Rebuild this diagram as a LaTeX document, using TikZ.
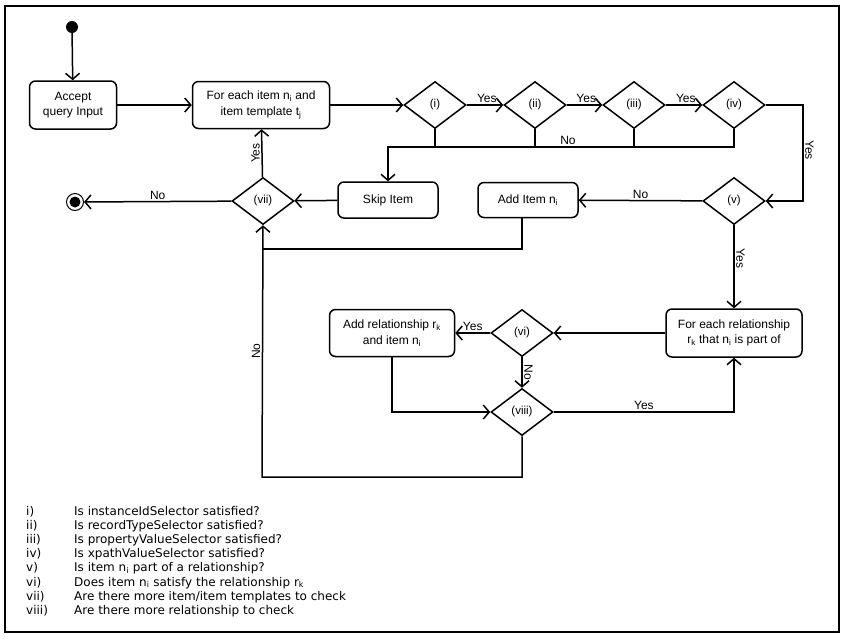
\documentclass[tikz,border=0pt]{standalone}
\usepackage{fontspec}
\setmainfont{Liberation Sans}
\newfontfamily\legendfont{DejaVu Sans}
\usepackage{tikz}
\usetikzlibrary{arrows.meta,shapes.geometric}

\begin{document}
\begin{tikzpicture}[x=1pt,y=-1pt]
    \tikzset{action/.style = {shape=rectangle, draw, rounded corners=6pt, line width=1.5pt, align=center, inner sep=0pt, font=\fontsize{12}{15.5}\selectfont}}
    \tikzset{decision/.style = {shape=diamond, draw, line width=1.5pt, minimum width=62pt, minimum height=47pt, inner sep=0pt, font=\fontsize{11.5}{13}\selectfont}}
    \tikzset{edge/.style = {-{Straight Barb[length=6pt,width=14pt]}, line width=1.5pt}}
    \tikzset{flow/.style = {line width=1.5pt}}
    \tikzset{lbl/.style = {inner sep=1.5pt, font=\fontsize{12}{13}\selectfont}}
    \tikzset{legend/.style = {anchor=base west, inner sep=0pt, font=\legendfont\fontsize{12}{13}\selectfont}}

    \useasboundingbox (0,0) rectangle (845,638);
    \draw[line width=1.5pt] (5,6) rectangle (839,632);

    \node[circle, fill, minimum size=12pt, inner sep=0pt] (start) at (72,27) {};
    \node[circle, draw, line width=1pt, minimum size=17pt, inner sep=0pt] (stop) at (75,202) {};
    \node[circle, fill, minimum size=11pt, inner sep=0pt] (stopdot) at (stop) {};

    \node[action, minimum width=87pt, minimum height=48pt] (accept) at (73,105) {Accept\\query Input};
    \node[action, minimum width=137pt, minimum height=47pt] (itemloop) at (261,105) {For each item n\textsubscript{i} and\\item template t\textsubscript{j}};
    \node[decision] (d1) at (435,105) {(i)};
    \node[decision] (d2) at (535,105) {(ii)};
    \node[decision] (d3) at (634,105) {(iii)};
    \node[decision] (d4) at (734,105) {(iv)};
    \node[decision] (d5) at (734,201) {(v)};
    \node[action, minimum width=100pt, minimum height=36pt] (skip) at (388,200) {Skip Item};
    \node[action, minimum width=100pt, minimum height=35pt] (additem) at (528,200) {Add Item n\textsubscript{i}};
    \node[decision] (d7) at (263,201) {(vii)};
    \node[action, minimum width=136pt, minimum height=48pt] (relloop) at (734,333) {For each relationship\\r\textsubscript{k} that n\textsubscript{i} is part of};
    \node[decision] (d6) at (522,333) {(vi)};
    \node[action, minimum width=125pt, minimum height=47pt] (addrel) at (392,333) {Add relationship r\textsubscript{k}\\and item n\textsubscript{i}};
    \node[decision] (d8) at (522,412) {(viii)};

    \coordinate (nojoin) at (388,147);
    \coordinate (rbend) at (803,150);
    \coordinate (joinA) at (262,249);
    \coordinate (loopcorner) at (262,477);

    \draw[edge] (start) -- (accept);
    \draw[edge] (accept) -- (itemloop);
    \draw[edge] (itemloop) -- (d1);
    \draw[edge] (d1) -- node[lbl, above, pos=0.55] (y1) {Yes} (d2);
    \draw[edge] (d2) -- node[lbl, above, pos=0.55] (y2) {Yes} (d3);
    \draw[edge] (d3) -- node[lbl, above, pos=0.55] (y3) {Yes} (d4);
    \draw[edge] (d4.east) -| (rbend) node[lbl, rotate=-90, anchor=south] (y4) {Yes} |- (d5.east);
    \draw[flow] (d1.south) -- (d1.south |- nojoin);
    \draw[flow] (d2.south) -- (d2.south |- nojoin);
    \draw[flow] (d3.south) -- (d3.south |- nojoin);
    \draw[edge] (d4.south) -- (d4.south |- nojoin) -- node[lbl, above, pos=0.48] (n1) {No} (nojoin) -- (skip.north);
    \draw[edge] (d5) -- node[lbl, above] (n5) {No} (additem);
    \draw[edge] (d5) -- node[lbl, rotate=-90, anchor=south, pos=0.4] (y5) {Yes} (relloop);
    \draw[edge] (skip) -- (d7);
    \draw[edge] (d7) -- node[lbl, above] (n7) {No} (stop);
    \draw[edge] (d7) -- node[lbl, rotate=90, anchor=south] (y7) {Yes} (itemloop);
    \draw[flow] (additem.south -| d6) |- (joinA);
    \draw[edge] (d8.south) |- (loopcorner) -- node[lbl, rotate=90, anchor=south, pos=0.5] (n8) {No} (d7.south);
    \draw[edge] (relloop) -- (d6);
    \draw[edge] (d6) -- node[lbl, above] (y6) {Yes} (addrel);
    \draw[edge] (d6) -- node[lbl, rotate=-90, anchor=south] (n6) {No} (d8);
    \draw[edge] (addrel.south) |- (d8.west);
    \draw[edge] (d8.east) -| node[lbl, above, pos=0.25] (y8) {Yes} (relloop.south);

    % legend
    \foreach \n/\k/\t in {1/i)/Is instanceIdSelector satisfied?,
                          2/ii)/Is recordTypeSelector satisfied?,
                          3/iii)/Is propertyValueSelector satisfied?,
                          4/iv)/Is xpathValueSelector satisfied?,
                          5/v)/{Is item n\textsubscript{i} part of a relationship?},
                          6/vi)/{Does item n\textsubscript{i} satisfy the relationship r\textsubscript{k}},
                          7/vii)/Are there more item{/}item templates to check,
                          8/viii)/Are there more relationship to check}
    {
      \node[legend] (key\n) at (26,{515.5+14.1*(\n-1)}) {\k};
      \node[legend] (txt\n) at (74,{515.5+14.1*(\n-1)}) {\t};
    }
\end{tikzpicture}
\end{document}
